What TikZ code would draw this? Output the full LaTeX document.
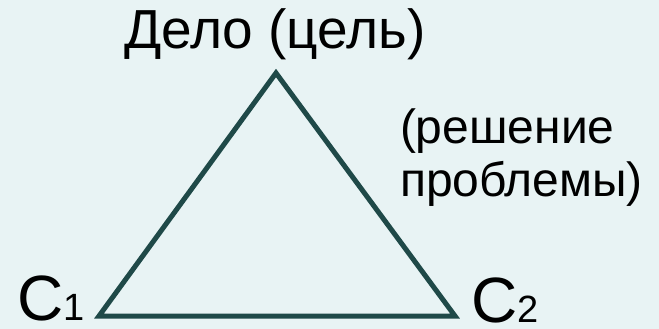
\documentclass[tikz,border=0pt]{standalone}
\usepackage{fontspec}
\setmainfont{Liberation Sans}
\definecolor{bgcol}{RGB}{232,243,244}
\definecolor{linecol}{RGB}{31,73,72}
\begin{document}
\begin{tikzpicture}[x=1pt,y=-1pt,
  lbl/.style={inner sep=0pt,outer sep=0pt,anchor=base west,text=black},
  side/.style={draw=linecol,line width=5pt,line join=miter}]
\fill[bgcol] (0,0) rectangle (659,329);
\useasboundingbox (0,0) rectangle (659,329);
\coordinate (top) at (276,73);
\coordinate (left) at (99,316);
\coordinate (right) at (455,316);
\draw[side] (top) -- (left) -- (right) -- cycle;
\node[lbl,font=\fontsize{55}{60}\selectfont] (goal) at (124,49) {Дело (цель)};
\node[lbl,font=\fontsize{48}{53}\selectfont,align=left] (task) at (400,196) {(решение\\проблемы)};
\node[lbl,font=\fontsize{64}{68}\selectfont] (c1) at (17,320) {С\fontsize{38}{42}\selectfont 1};
\node[lbl,font=\fontsize{64}{68}\selectfont] (c2) at (471,322) {С\fontsize{38}{42}\selectfont 2};
\end{tikzpicture}
\end{document}
